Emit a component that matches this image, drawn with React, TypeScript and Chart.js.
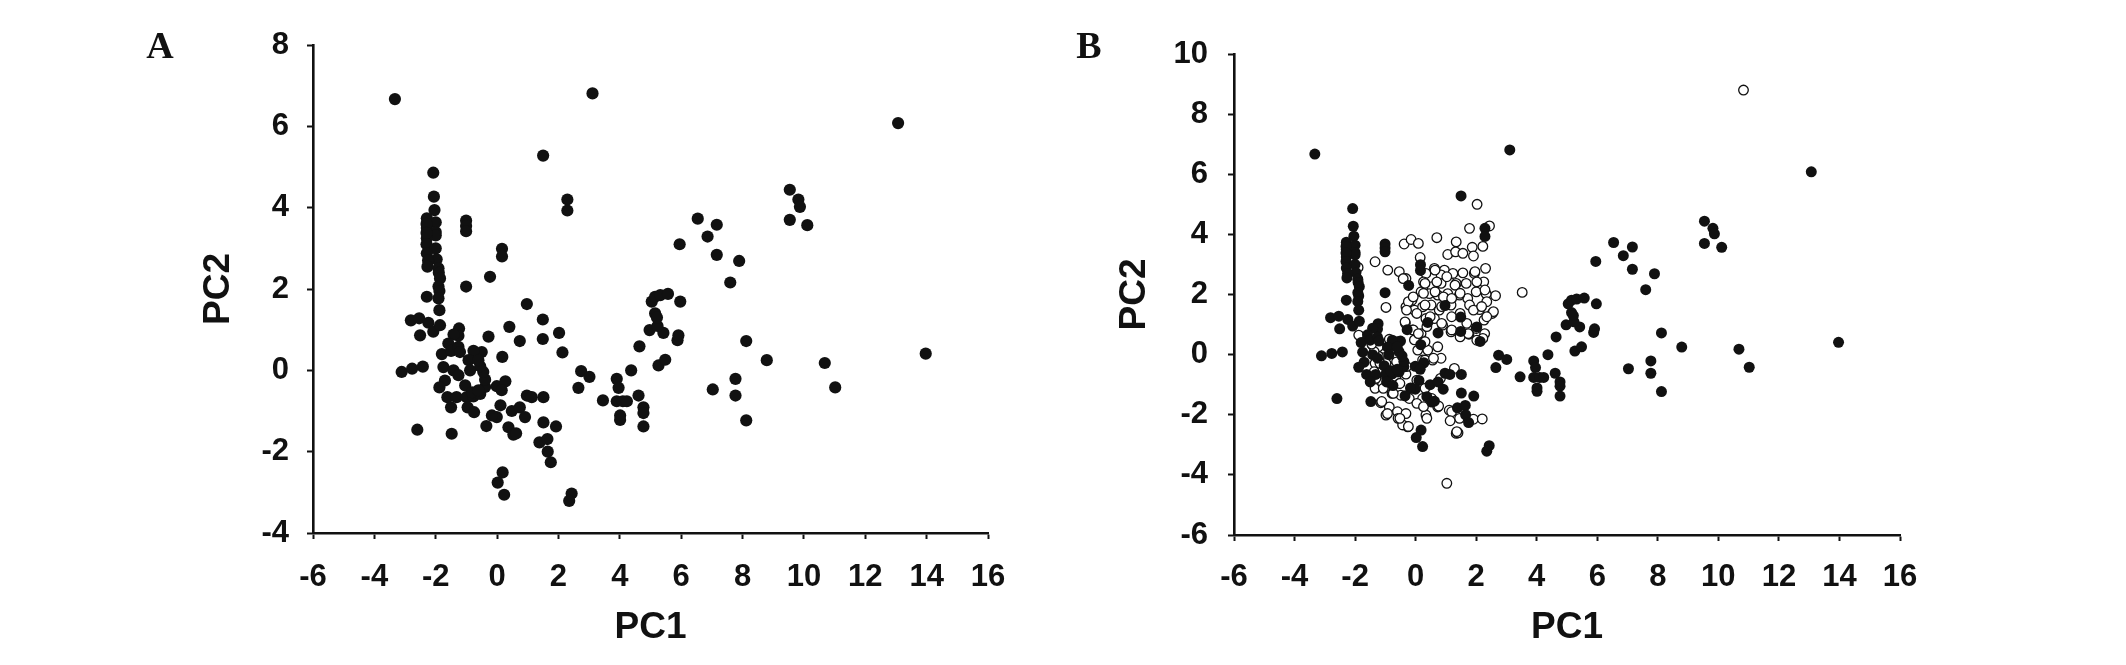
import React, { useEffect, useRef } from "react";
import { Chart, registerables } from "chart.js";

Chart.register(...registerables);

// ---------- data ----------
const xTickValues = [-6, -4, -2, 0, 2, 4, 6, 8, 10, 12, 14, 16];
const yTickValuesA = [-4, -2, 0, 2, 4, 6, 8];
const yTickValuesB = [-6, -4, -2, 0, 2, 4, 6, 8, 10];

// Black (filled) samples – shown in panel A and again in panel B
const blackPoints: [number, number][] = [
  [-3.33, 6.67], [3.11, 6.81], [13.07, 6.08], [1.5, 5.28],
  [-2.08, 4.86], [-2.06, 4.27], [-2.04, 3.94], [-2.29, 3.74], [-2.0, 3.64], [-2.29, 3.5],
  [-2.0, 3.4], [-2.0, 3.32], [-2.29, 3.25], [-2.3, 3.6], [-2.3, 3.38], [-2.3, 3.1],
  [-2.0, 3.0], [-2.29, 2.88], [-1.97, 2.73], [-2.25, 2.7], [-2.27, 2.55], [-1.91, 2.51],
  [-1.9, 2.4], [-1.86, 2.26], [-1.91, 2.06], [-1.88, 1.95], [-1.91, 1.77], [-2.29, 1.81],
  [-1.88, 1.48],
  [-2.81, 1.23], [-2.54, 1.28], [-2.24, 1.17], [-2.51, 0.86], [-2.08, 0.95], [-1.86, 1.11],
  [-3.11, -0.04], [-2.77, 0.04], [-2.42, 0.09], [-2.6, -1.46], [-1.48, -1.56],
  [-1.01, 3.68], [-1.01, 3.55], [-1.01, 3.42], [-1.01, 2.06], [-0.23, 2.3], [0.16, 2.99],
  [0.16, 2.8], [2.29, 4.2], [2.29, 3.93],
  [-1.24, 1.03], [-1.26, 0.85], [-1.42, 0.88], [-1.59, 0.66], [-1.8, 0.4], [-1.5, 0.48],
  [-1.26, 0.58], [-1.21, 0.45], [-1.75, 0.08], [-1.42, 0.0], [-1.26, -0.12], [-1.7, -0.25],
  [-1.88, -0.42], [-1.04, -0.37], [-1.62, -0.66], [-1.32, -0.66], [-0.99, -0.66], [-0.77, -0.64],
  [-0.55, -0.58], [-0.39, -0.41], [-0.39, -0.23], [-0.45, -0.04], [-0.55, 0.1], [-0.66, 0.29],
  [-0.5, 0.45], [-0.77, 0.48], [-0.93, 0.25], [-0.88, 0.0], [-0.82, -0.54], [-0.61, -0.49],
  [-1.5, -0.91], [-0.96, -0.91], [-0.75, -1.03], [-0.61, 0.25],
  [-0.28, 0.83], [0.4, 1.07], [0.74, 0.72], [0.17, 0.33], [-0.01, -0.39], [0.27, -0.27],
  [0.15, -0.49], [0.11, -0.86], [-0.01, -1.15], [-0.17, -1.11], [-0.35, -1.37], [0.37, -1.4],
  [0.53, -1.58], [0.62, -1.55], [0.48, -1.0], [0.74, -0.91], [0.91, -1.15], [0.97, 1.63],
  [1.49, 1.25], [1.49, 0.77], [2.02, 0.92], [2.13, 0.44], [1.51, -0.66], [0.97, -0.62],
  [1.13, -0.66], [1.51, -1.28], [1.92, -1.38], [1.38, -1.77], [1.64, -1.69], [1.65, -2.0],
  [1.75, -2.26], [0.18, -2.51], [0.02, -2.76], [0.23, -3.06], [2.43, -3.03], [2.35, -3.21],
  [2.74, -0.02], [3.01, -0.16], [2.65, -0.43], [3.45, -0.74], [3.9, -0.21], [3.96, -0.43],
  [3.9, -0.76], [4.1, -0.76], [4.23, -0.76], [4.01, -1.11], [4.01, -1.22], [4.37, 0.0],
  [4.64, 0.59], [4.61, -0.62], [4.77, -0.91], [4.77, -1.05], [4.77, -1.38], [4.97, 0.99],
  [5.26, 0.12], [5.48, 0.26], [5.42, 0.92], [5.23, 1.09], [5.15, 1.4], [5.21, 1.3],
  [5.04, 1.69], [5.15, 1.81], [5.32, 1.85], [5.57, 1.88], [5.97, 1.69], [5.88, 0.74],
  [5.91, 0.86], [5.95, 3.1], [6.54, 3.73], [6.86, 3.29], [7.16, 3.58], [7.16, 2.84],
  [7.89, 2.69], [7.6, 2.16], [7.03, -0.47], [7.77, -0.21], [7.77, -0.62], [8.12, 0.72],
  [8.12, -1.23], [8.79, 0.25], [9.54, 4.44], [9.82, 4.2], [9.87, 4.02], [9.54, 3.7],
  [10.11, 3.57], [13.97, 0.41], [10.68, 0.18], [11.02, -0.42],
];

// White (open) samples – panel B only
const whitePoints: [number, number][] = [
  [2.03, 5.0], [1.78, 4.2], [2.44, 4.28], [2.22, 3.6], [-0.38, 3.68], [-0.15, 3.83], [0.09, 3.7],
  [0.7, 3.89], [1.34, 3.75], [1.06, 3.33], [1.32, 3.42], [1.56, 3.37], [1.87, 3.57], [1.91, 3.28],
  [0.15, 3.23], [-1.34, 3.09], [-1.9, 2.9], [-0.92, 2.81], [-0.54, 2.76], [-0.32, 2.53], [0.34, 2.7],
  [0.62, 2.87], [0.95, 2.81], [0.84, 2.65], [1.23, 2.7], [1.56, 2.72], [1.94, 2.7], [2.31, 2.87],
  [0.26, 2.42], [0.54, 2.26], [0.84, 2.37], [1.34, 2.37], [1.67, 2.37], [2.25, 2.42], [2.64, 1.96],
  [2.33, 2.02], [2.0, 2.09], [1.72, 1.87], [1.45, 1.98], [1.06, 2.03], [0.73, 1.98], [0.45, 2.03],
  [0.18, 2.09], [-0.12, 1.81], [-0.32, 1.59], [-0.04, 1.48], [0.23, 1.59], [0.51, 1.65], [0.78, 1.48],
  [1.17, 1.65], [1.47, 1.37], [1.78, 1.65], [2.11, 1.5], [2.35, 1.76], [2.53, 1.37], [2.26, 1.15],
  [2.0, 0.87], [2.28, 0.7], [2.22, 0.54], [1.45, 0.73], [1.76, 0.68], [1.17, 0.76], [0.89, 0.98],
  [0.62, 1.2], [0.34, 1.2], [-0.34, 1.04], [-0.1, 0.82], [0.18, 0.7], [0.29, 0.43], [-0.04, 0.49],
  [0.07, 0.15], [0.4, 0.15], [0.73, 0.26], [0.84, -0.12], [0.56, -0.18], [0.23, -0.18], [3.52, 2.07],
  [-0.98, 1.57], [-1.88, 0.65], [-1.34, 0.71], [-0.87, 0.51], [-0.6, 0.43], [-1.43, 0.32], [-1.09, 0.21],
  [-1.23, -0.05], [-0.9, -0.16], [-0.65, 0.02], [-1.34, -0.29], [-1.09, -0.51], [-0.87, -0.68],
  [-0.65, -0.74], [-0.32, -0.65], [0.04, -0.85], [-0.15, -1.12], [-0.54, -0.96], [-1.37, -0.57],
  [-1.34, -1.12], [-1.09, -0.96], [-0.78, -1.29], [-0.49, -1.35], [-0.21, -1.46], [0.23, -1.46],
  [-1.15, -1.6], [-0.87, -1.74], [-0.6, -1.9], [-0.32, -1.96], [-0.98, -2.01], [-0.58, -2.12],
  [-0.26, -2.4], [-0.43, -2.34], [0.34, -2.01], [0.73, -1.74], [0.82, -0.79], [1.28, -0.46],
  [1.11, -1.85], [1.45, -2.12], [1.91, -2.15], [2.2, -2.14], [1.34, -2.62], [1.4, -2.6],
  [1.03, -4.28], [10.83, 8.8],
  [-0.41, 2.53], [-0.24, 1.76], [-0.08, 1.92], [-0.3, 1.48], [-0.35, 1.09], [-0.08, 0.82],
  [-0.63, 0.37], [-1.23, 0.26], [-1.37, 0.1], [-0.98, -0.29], [-0.63, -0.24], [-0.3, -0.4],
  [-1.31, -0.79], [-0.87, -0.62], [-0.52, -0.96], [-1.07, -1.12], [-0.74, -1.29], [-1.12, -1.56],
  [-0.93, -1.96], [-0.52, -2.12], [-0.24, -2.39], [-1.45, 0.35], [-1.18, -0.29], [0.04, -1.62],
  [1.96, 2.76], [0.64, 2.81], [1.03, 2.59], [0.7, 2.42], [0.31, 2.37], [1.3, 2.31], [2.02, 2.42],
  [2.29, 2.15], [0.26, 2.04], [0.64, 2.09], [0.92, 1.92], [1.19, 1.87], [1.47, 2.04], [0.31, 1.65],
  [0.86, 1.6], [1.91, 1.48], [2.57, 1.43], [2.18, 1.6], [0.04, 1.37], [0.48, 1.26], [1.19, 1.26],
  [1.69, 1.04], [0.86, 1.04], [2.35, 1.26], [0.09, 0.7], [0.37, 0.93], [1.19, 0.82], [1.47, 0.59],
  [1.74, 0.7], [2.02, 0.48], [0.31, 0.43], [0.31, -0.18], [0.59, -0.12], [0.31, -1.12],
  [0.53, -1.46], [0.26, -1.73], [0.76, -1.71], [1.19, -1.9], [1.36, -2.56], [0.37, -2.12], [1.14, -2.2],
];

// ---------- styling ----------
const INK = "#111111";
const SANS = "'Liberation Sans', Arial, Helvetica, sans-serif";
const SERIF = "'Liberation Serif', 'Times New Roman', serif";
const H = 665;

type PanelCfg = {
  left: number;
  width: number;
  area: { left: number; right: number; top: number; bottom: number };
  yMin: number;
  yMax: number;
  yTicks: number[];
  yTitleCenter: number;
  yTickPad: number;
  xTickPad: number;
  blackRadius: number;
  showWhite: boolean;
};

const TICK_FONT = 31;
const TITLE_FONT = 37;

function Panel({ cfg }: { cfg: PanelCfg }) {
  const ref = useRef<HTMLCanvasElement>(null);
  useEffect(() => {
    const datasets: any[] = [
      {
        label: "black",
        data: blackPoints.map(([x, y]) => ({ x, y })),
        backgroundColor: INK,
        borderColor: INK,
        borderWidth: 0,
        pointRadius: cfg.blackRadius,
        pointHoverRadius: cfg.blackRadius,
      },
    ];
    if (cfg.showWhite) {
      datasets.push({
        label: "white",
        data: whitePoints.map(([x, y]) => ({ x, y })),
        backgroundColor: "#ffffff",
        borderColor: INK,
        borderWidth: 1.3,
        pointRadius: 4.8,
        pointHoverRadius: 4.8,
      });
    }
    const a = cfg.area;
    const chart = new Chart(ref.current as HTMLCanvasElement, {
      type: "scatter",
      data: { datasets },
      options: {
        animation: false,
        responsive: false,
        maintainAspectRatio: false,
        layout: { padding: { left: 0, top: a.top, right: cfg.width - a.right, bottom: 0 } },
        plugins: { legend: { display: false }, tooltip: { enabled: false } },
        scales: {
          x: {
            type: "linear",
            min: -6,
            max: 16,
            afterBuildTicks: (s: any) => {
              s.ticks = xTickValues.map((v) => ({ value: v }));
            },
            ticks: {
              color: INK,
              padding: cfg.xTickPad,
              font: { family: SANS, size: TICK_FONT, weight: "bold" },
            },
            grid: {
              display: true,
              drawOnChartArea: false,
              drawTicks: true,
              tickLength: 6,
              tickWidth: 2,
              tickColor: INK,
            },
            border: { display: true, color: INK, width: 2.6 },
            title: {
              display: true,
              text: "PC1",
              color: INK,
              font: { family: SANS, size: TITLE_FONT, weight: "bold" },
              padding: { top: 0, bottom: 14.8 },
            },
            afterFit: (s: any) => {
              s.height = H - a.bottom;
            },
          },
          y: {
            type: "linear",
            min: cfg.yMin,
            max: cfg.yMax,
            afterBuildTicks: (s: any) => {
              s.ticks = cfg.yTicks.map((v) => ({ value: v }));
            },
            ticks: {
              color: INK,
              padding: cfg.yTickPad,
              font: { family: SANS, size: TICK_FONT, weight: "bold" },
            },
            grid: {
              display: true,
              drawOnChartArea: false,
              drawTicks: true,
              tickLength: 6,
              tickWidth: 2,
              tickColor: INK,
            },
            border: { display: true, color: INK, width: 2.6 },
            title: {
              display: true,
              text: "PC2",
              color: INK,
              font: { family: SANS, size: TITLE_FONT, weight: "bold" },
              padding: { top: cfg.yTitleCenter - (TITLE_FONT * 1.2) / 2, bottom: 0 },
            },
            afterFit: (s: any) => {
              s.width = a.left;
            },
          },
        },
      } as any,
    });
    return () => chart.destroy();
  }, []);
  return (
    <canvas
      ref={ref}
      width={cfg.width}
      height={H}
      style={{ position: "absolute", left: cfg.left, top: 0, width: cfg.width, height: H }}
    />
  );
}

const panelA: PanelCfg = {
  left: 0,
  width: 1063,
  area: { left: 313, right: 988, top: 45, bottom: 533 },
  yMin: -4,
  yMax: 8,
  yTicks: yTickValuesA,
  yTitleCenter: 219,
  yTickPad: 18,
  xTickPad: 20,
  blackRadius: 6.1,
  showWhite: false,
};

const panelB: PanelCfg = {
  left: 1063,
  width: 1063,
  area: { left: 171, right: 837, top: 54, bottom: 535 },
  yMin: -6,
  yMax: 10,
  yTicks: yTickValuesB,
  yTitleCenter: 72,
  yTickPad: 20,
  xTickPad: 18,
  blackRadius: 5.5,
  showWhite: true,
};

const letterStyle: React.CSSProperties = {
  position: "absolute",
  top: 45,
  transform: "translate(-50%, -50%)",
  fontFamily: SERIF,
  fontWeight: "bold",
  fontSize: 38,
  lineHeight: 1,
  color: INK,
};

export default function App() {
  return (
    <div
      style={{
        position: "absolute",
        left: 0,
        top: 0,
        width: 2126,
        height: H,
        background: "#ffffff",
        overflow: "hidden",
      }}
    >
      <Panel cfg={panelA} />
      <Panel cfg={panelB} />
      <div style={{ ...letterStyle, left: 160 }}>A</div>
      <div style={{ ...letterStyle, left: 1089 }}>B</div>
    </div>
  );
}
